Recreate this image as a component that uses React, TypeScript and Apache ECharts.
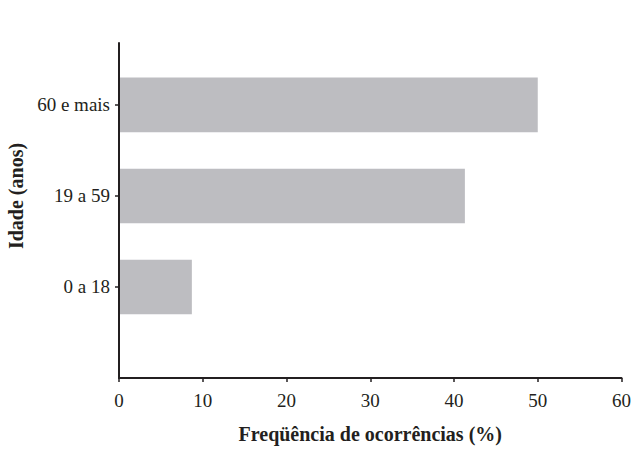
import React, { useEffect, useRef } from "react";
import * as echarts from "echarts";

const categories = ["0 a 18", "19 a 59", "60 e mais"];
const values = [8.7, 41.3, 50.0];
const xTicks = [0, 10, 20, 30, 40, 50, 60];

export default function App() {
  const ref = useRef<HTMLDivElement>(null);
  useEffect(() => {
    if (!ref.current) return;
    const chart = echarts.init(ref.current, null, { renderer: "svg" });
    const font = "'Liberation Serif', 'Times New Roman', serif";
    const axisColor = "#231f20";
    chart.setOption({
      animation: false,
      textStyle: { fontFamily: font },
      grid: { left: 119, right: 12, top: 43, bottom: 76, containLabel: false },
      xAxis: {
        type: "value",
        min: xTicks[0],
        max: xTicks[xTicks.length - 1],
        interval: 10,
        name: "Freqüência de ocorrências (%)",
        nameLocation: "middle",
        nameGap: 46,
        nameTextStyle: { fontFamily: font, fontSize: 20, fontWeight: "bold", color: axisColor },
        axisLine: { show: true, lineStyle: { color: axisColor, width: 2 } },
        axisTick: { show: true, length: 4, lineStyle: { color: axisColor, width: 1.5 } },
        axisLabel: { fontFamily: font, fontSize: 19, color: axisColor, margin: 13 },
        splitLine: { show: false },
      },
      yAxis: {
        type: "value",
        min: 0,
        max: 3.68,
        axisLine: { show: true, lineStyle: { color: axisColor, width: 2 } },
        axisTick: { show: true, length: 4, customValues: [1, 2, 3], lineStyle: { color: axisColor, width: 1.5 } },
        axisLabel: {
          customValues: [1, 2, 3],
          fontFamily: font,
          fontSize: 19,
          color: axisColor,
          margin: 9,
          formatter: (v: number) => categories[Math.round(v) - 1] ?? "",
        },
        splitLine: { show: false },
      },
      graphic: [
        {
          type: "text",
          x: 16,
          y: 196,
          rotation: Math.PI / 2,
          style: {
            text: "Idade (anos)",
            font: `bold 20px ${font}`,
            fill: axisColor,
            align: "center",
            verticalAlign: "middle",
          },
        },
      ],
      series: [
        {
          type: "custom",
          data: values.map((v, i) => [v, i + 1]),
          renderItem: (params: any, api: any) => {
            const x = api.value(0);
            const y = api.value(1);
            const p0 = api.coord([0, y + 0.3]);
            const p1 = api.coord([x, y - 0.3]);
            return {
              type: "rect",
              shape: { x: p0[0] + 1, y: p0[1], width: p1[0] - p0[0] - 1, height: p1[1] - p0[1] },
              style: { fill: "#bdbdc1" },
            };
          },
        },
      ],
    });
    return () => chart.dispose();
  }, []);
  return <div ref={ref} style={{ width: 634, height: 454, position: "absolute", left: 0, top: 0 }} />;
}
